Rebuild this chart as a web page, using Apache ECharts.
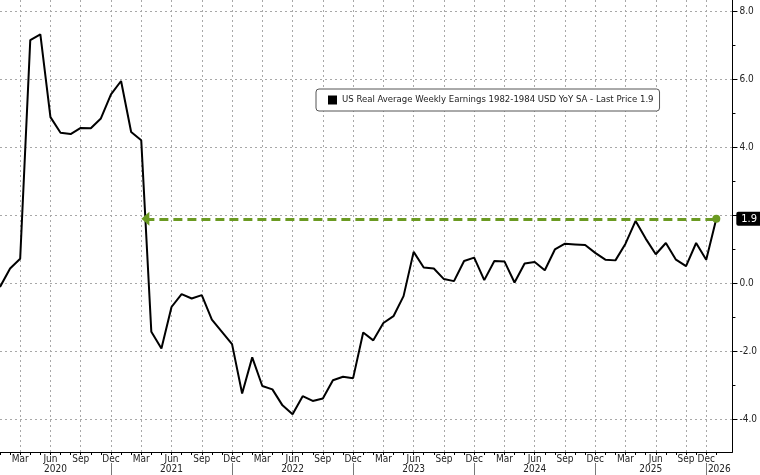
<!DOCTYPE html>
<html><head><meta charset="utf-8">
<script src="https://cdn.jsdelivr.net/npm/echarts@6/dist/echarts.min.js"></script>
<style>html,body{margin:0;padding:0;background:#fff}#c{width:760px;height:475px}</style>
</head><body><div id="c"></div><script>
const seriesName = 'US Real Average Weekly Earnings 1982-1984 USD YoY SA';
const months = [
 '2020-01','2020-02','2020-03','2020-04','2020-05','2020-06','2020-07','2020-08','2020-09','2020-10','2020-11','2020-12',
 '2021-01','2021-02','2021-03','2021-04','2021-05','2021-06','2021-07','2021-08','2021-09','2021-10','2021-11','2021-12',
 '2022-01','2022-02','2022-03','2022-04','2022-05','2022-06','2022-07','2022-08','2022-09','2022-10','2022-11','2022-12',
 '2023-01','2023-02','2023-03','2023-04','2023-05','2023-06','2023-07','2023-08','2023-09','2023-10','2023-11','2023-12',
 '2024-01','2024-02','2024-03','2024-04','2024-05','2024-06','2024-07','2024-08','2024-09','2024-10','2024-11','2024-12',
 '2025-01','2025-02','2025-03','2025-04','2025-05','2025-06','2025-07','2025-08','2025-09','2025-11','2025-12',
 '2026-01'
];
const values = [
 -0.10, 0.44, 0.73, 7.15, 7.32, 4.89, 4.43, 4.39, 4.57, 4.56, 4.85, 5.56,
 5.95, 4.45, 4.21, -1.42, -1.91, -0.69, -0.31, -0.44, -0.34, -1.06, -1.42, -1.78,
 -3.23, -2.17, -3.01, -3.11, -3.58, -3.84, -3.31, -3.45, -3.38, -2.84, -2.74, -2.78,
 -1.44, -1.67, -1.16, -0.96, -0.37, 0.93, 0.47, 0.44, 0.13, 0.07, 0.66, 0.76,
 0.10, 0.66, 0.65, 0.03, 0.59, 0.63, 0.39, 1.00, 1.17, 1.15, 1.13, 0.90,
 0.70, 0.68, 1.17, 1.84, 1.32, 0.86, 1.19, 0.70, 0.51, 1.19, 0.70,
 1.90
];
const monthNames = ['Jan','Feb','Mar','Apr','May','Jun','Jul','Aug','Sep','Oct','Nov','Dec'];
const quarterMonths = ['03','06','09','12'];
const yTicks = [-4, -2, 0, 2, 4, 6, 8];
const yMinorTicks = [-3, -1, 1, 3, 5, 7];

const FONT = "'Liberation Sans Narrow', 'DejaVu Sans Condensed', 'Liberation Sans', sans-serif";
const X_MAX = 72.6, Y_MIN = -4.95, Y_MAX = 8.33;

const idx = months.map((m, i) => i);
const quarterIdx = idx.filter(i => quarterMonths.indexOf(months[i].slice(5)) >= 0);
const decIdx = idx.filter(i => months[i].slice(5) === '12');
const years = [];
months.forEach(m => { const y = m.slice(0, 4); if (years.indexOf(y) < 0) years.push(y); });
const yearMid = years.map(y => {
  const prevDec = decIdx.filter(i => months[i].slice(0, 4) < y);
  const start = prevDec.length ? prevDec[prevDec.length - 1] : 0;
  const thisDec = decIdx.filter(i => months[i].slice(0, 4) === y);
  const end = thisDec.length ? thisDec[0] : X_MAX;
  return (start + end) / 2;
});

const last = values[values.length - 1];
const lastIdx = values.length - 1;
let crossIdx = 0;
for (let i = lastIdx - 1; i >= 0; i--) {
  if (values[i] >= last) { crossIdx = i + (values[i] - last) / (values[i] - values[i + 1]); break; }
}
// the last-price tag covers the tick label it overlaps
const yLabelTicks = yTicks.filter(v => Math.abs(v - last) >= 0.5);

const grid = {left: 0, right: 26, top: 0, bottom: 23};
const dotted = {color: '#a8a8a8', width: 1, type: [2, 3]};
const chart = echarts.init(document.getElementById('c'));
chart.setOption({
  animation: false,
  backgroundColor: '#ffffff',
  grid: grid,
  legend: {
    left: 316, top: 89,
    padding: [6, 6, 6, 12],
    backgroundColor: '#ffffff',
    borderColor: '#555555', borderWidth: 1, borderRadius: 3,
    itemWidth: 9, itemHeight: 9,
    data: [{name: seriesName, icon: 'rect', itemStyle: {color: '#000'}}],
    formatter: n => n + ' - Last Price ' + last.toFixed(1),
    textStyle: {fontFamily: FONT, fontSize: 9.5, color: '#222'}
  },
  xAxis: [
    {type: 'value', min: 0, max: X_MAX, position: 'bottom',
     axisLine: {show: true, onZero: false, lineStyle: {color: '#000', width: 1}},
     axisTick: {show: true, customValues: idx, length: 3, lineStyle: {color: '#000'}},
     axisLabel: {show: true, customValues: quarterIdx, margin: 2, fontFamily: FONT, fontSize: 10, color: '#222',
       formatter: v => monthNames[parseInt(months[Math.round(v)].slice(5), 10) - 1]},
     splitLine: {show: false}},
    {type: 'value', min: 0, max: X_MAX, position: 'bottom',
     axisLine: {show: false, onZero: false}, axisLabel: {show: false},
     axisTick: {show: false, customValues: quarterIdx},
     splitLine: {show: true, lineStyle: dotted}},
    {type: 'value', min: 0, max: X_MAX, position: 'bottom', offset: 11,
     axisLine: {show: false, onZero: false},
     axisTick: {show: true, customValues: decIdx, length: 13, lineStyle: {color: '#777'}},
     axisLabel: {show: true, customValues: yearMid, margin: 1, fontFamily: FONT, fontSize: 10, color: '#222',
       formatter: v => { let k = 0; yearMid.forEach((m, j) => { if (Math.abs(m - v) < 0.01) k = j; }); return years[k]; }},
     splitLine: {show: false}}
  ],
  yAxis: [
    {type: 'value', position: 'right', min: Y_MIN, max: Y_MAX,
     axisLine: {show: true, onZero: false, lineStyle: {color: '#000', width: 1}},
     axisTick: {show: true, customValues: yTicks, length: 5, lineStyle: {color: '#000'}},
     axisLabel: {show: true, customValues: yLabelTicks, margin: 7, fontFamily: FONT, fontSize: 10, color: '#222',
       formatter: v => v.toFixed(1)},
     splitLine: {show: true, lineStyle: dotted}},
    {type: 'value', position: 'right', min: Y_MIN, max: Y_MAX,
     axisLine: {show: false, onZero: false}, axisLabel: {show: false},
     axisTick: {show: true, customValues: yMinorTicks, length: 3, lineStyle: {color: '#000'}},
     splitLine: {show: false}}
  ],
  series: [{
    name: seriesName, type: 'line', xAxisIndex: 0, yAxisIndex: 0,
    data: values.map((v, i) => [i, v]),
    symbol: 'none', lineStyle: {color: '#000', width: 2}, itemStyle: {color: '#000'},
    z: 3,
    markLine: {
      silent: true, animation: false,
      symbol: ['triangle', 'circle'], symbolSize: [14, 8],
      lineStyle: {color: '#6b9a22', width: 3, type: [9, 5]},
      itemStyle: {color: '#6b9a22'},
      label: {show: false},
      data: [[
        {coord: [crossIdx, last]},
        {coord: [lastIdx, last],
         label: {show: true, position: 'end', distance: 20, formatter: last.toFixed(1),
           backgroundColor: '#000', color: '#fff', fontFamily: FONT, fontSize: 11,
           padding: [2, 5, 1, 5], borderRadius: 2}}
      ]]
    }
  }]
});
</script></body></html>
